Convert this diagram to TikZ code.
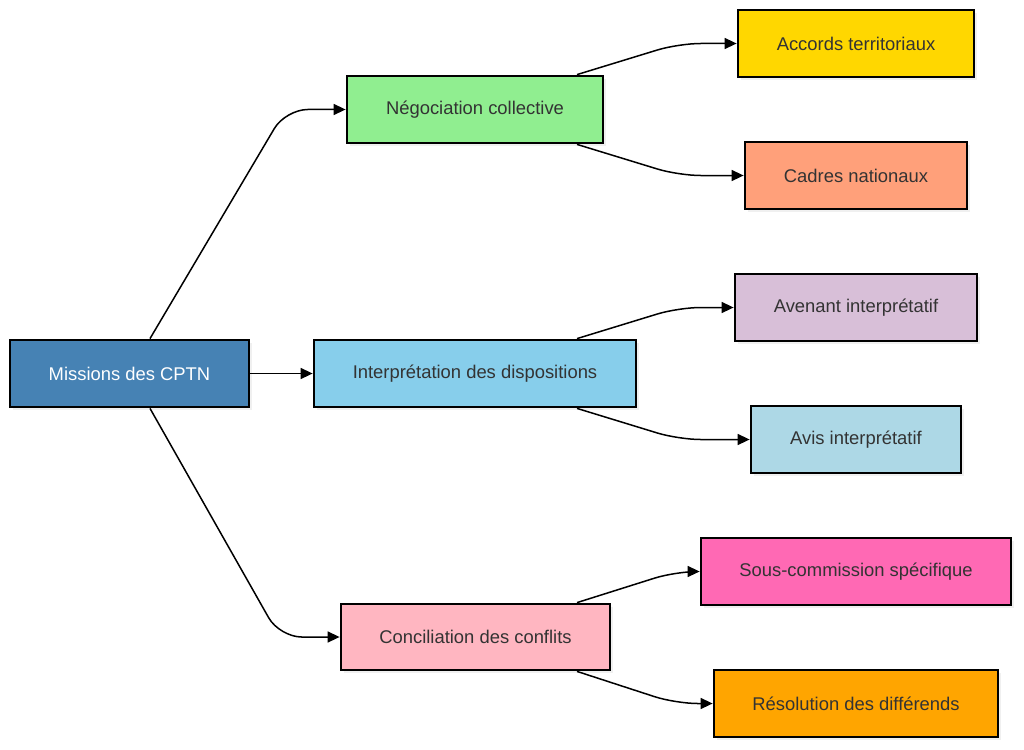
\documentclass[tikz,border=0pt]{standalone}
\usepackage{fontspec}
\setmainfont{Liberation Sans}
\usetikzlibrary{arrows.meta,shadows}
\definecolor{txt}{HTML}{333333}
\definecolor{cm}{HTML}{4682B4}
\definecolor{cn}{HTML}{90EE90}
\definecolor{ci}{HTML}{87CEEB}
\definecolor{cc}{HTML}{FFB6C1}
\definecolor{cacc}{HTML}{FFD700}
\definecolor{ccad}{HTML}{FFA07A}
\definecolor{cav}{HTML}{D8BFD8}
\definecolor{cavis}{HTML}{ADD8E6}
\definecolor{csous}{HTML}{FF69B4}
\definecolor{cres}{HTML}{FFA500}
\tikzset{
  box/.style={draw=black, line width=2.8pt, rectangle, minimum height=67pt, text=txt,
    font=\fontsize{18.4}{22}\selectfont, anchor=center,
    drop shadow={opacity=0.12, shadow xshift=3pt, shadow yshift=-3pt}},
  conn/.style={draw=black, line width=1.5pt, rounded corners=22pt, -{Triangle[length=12pt,width=11pt]}}
}
\begin{document}
\begin{tikzpicture}[x=1pt,y=-1pt]
\useasboundingbox (0,0) rectangle (1024,749);
\node[box, fill=cm, text=white, minimum width=239pt] (m) at (129.5,373.5) {Missions des CPTN};
\node[box, fill=cn, minimum width=256pt] (n) at (475,109.5) {Négociation collective};
\node[box, fill=ci, minimum width=322pt] (i) at (475,373.5) {Interprétation des dispositions};
\node[box, fill=cc, minimum width=269pt, minimum height=66pt] (c) at (475.5,637) {Conciliation des conflits};
\node[box, fill=cacc, minimum width=236pt] (acc) at (856,43.5) {Accords territoriaux};
\node[box, fill=ccad, minimum width=222pt] (cad) at (856,175.5) {Cadres nationaux};
\node[box, fill=cav, minimum width=242pt] (av) at (856,307.5) {Avenant interprétatif};
\node[box, fill=cavis, minimum width=210pt] (avis) at (856,439.5) {Avis interprétatif};
\node[box, fill=csous, minimum width=310pt] (sous) at (856,571.5) {Sous-commission spécifique};
\node[box, fill=cres, minimum width=284pt] (res) at (856,703.5) {Résolution des différends};

\draw[conn] ([xshift=20.5pt]m.north) -- ([xshift=-60pt]n.west) -- (n.west);
\draw[conn] (m.east) -- (i.west);
\draw[conn] ([xshift=20.5pt]m.south) -- ([xshift=-60pt]c.west) -- (c.west);

\draw[conn] ([xshift=102pt]n.north) -- ([xshift=-58pt]acc.west) -- (acc.west);
\draw[conn] ([xshift=102pt]n.south) -- ([xshift=-65pt]cad.west) -- (cad.west);
\draw[conn] ([xshift=102pt]i.north) -- ([xshift=-55pt]av.west) -- (av.west);
\draw[conn] ([xshift=102pt]i.south) -- ([xshift=-71pt]avis.west) -- (avis.west);
\draw[conn] ([xshift=101.5pt]c.north) -- ([xshift=-24pt]sous.west) -- (sous.west);
\draw[conn] ([xshift=101.5pt]c.south) -- ([xshift=-37pt]res.west) -- (res.west);
\end{tikzpicture}
\end{document}
